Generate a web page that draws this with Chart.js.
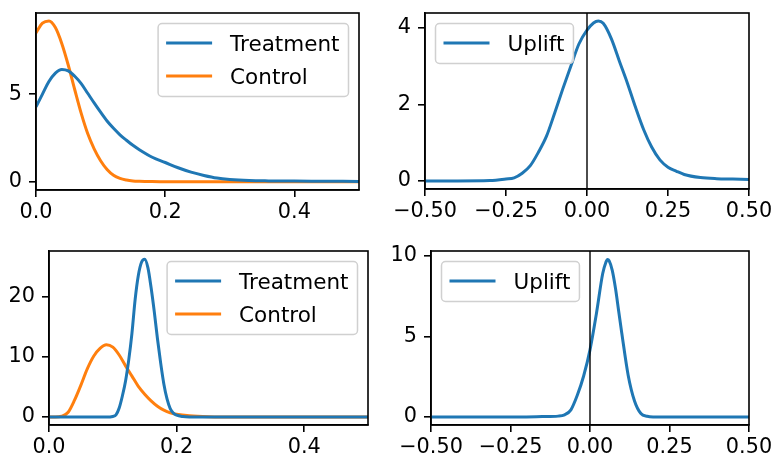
<!DOCTYPE html>
<html>
<head>
<meta charset="utf-8">
<script src="https://cdn.jsdelivr.net/npm/chart.js@4"></script>
<style>
  html, body { margin: 0; padding: 0; background: #fff; }
  .panel { position: absolute; width: 387px; height: 227px; }
  canvas { display: block; }
</style>
</head>
<body>
<div class="panel" style="left:0;top:0"><canvas id="chart-1" width="387" height="227"></canvas></div>
<div class="panel" style="left:387px;top:0"><canvas id="chart-2" width="387" height="227"></canvas></div>
<div class="panel" style="left:0;top:227px"><canvas id="chart-3" width="387" height="227"></canvas></div>
<div class="panel" style="left:387px;top:227px"><canvas id="chart-4" width="387" height="227"></canvas></div>
<script>
// Top left - Treatment vs Control
const xs1 = [0, 0.01, 0.02, 0.03, 0.04, 0.05, 0.06, 0.07, 0.08, 0.09, 0.10, 0.11, 0.12, 0.13, 0.14, 0.15, 0.16, 0.18, 0.20, 0.22, 0.24, 0.26, 0.28, 0.30, 0.33, 0.36, 0.40, 0.45, 0.50]
const treatment1 = [4.27, 5.0, 5.72, 6.2, 6.41, 6.33, 6.02, 5.6, 5.05, 4.5, 3.97, 3.47, 3.05, 2.68, 2.37, 2.08, 1.83, 1.4, 1.1, 0.8, 0.55, 0.36, 0.21, 0.13, 0.07, 0.05, 0.04, 0.03, 0.02]
const control1 = [8.5, 9.05, 9.18, 8.8, 7.88, 6.65, 5.25, 3.9, 2.75, 1.88, 1.2, 0.7, 0.37, 0.19, 0.1, 0.05, 0.03, 0.01, 0, 0, 0, 0, 0, 0, 0, 0, 0, 0, 0]

// Top right - Uplift
const xs2 = [-0.5, -0.4, -0.3, -0.25, -0.225, -0.2, -0.175, -0.15, -0.125, -0.1, -0.075, -0.05, -0.025, 0, 0.02, 0.035, 0.05, 0.075, 0.1, 0.125, 0.15, 0.175, 0.2, 0.225, 0.25, 0.275, 0.3, 0.35, 0.4, 0.45, 0.5]
const uplift1 = [0, 0, 0.01, 0.05, 0.08, 0.2, 0.4, 0.75, 1.17, 1.77, 2.4, 3.0, 3.58, 3.94, 4.13, 4.18, 4.12, 3.72, 3.13, 2.55, 1.92, 1.34, 0.88, 0.55, 0.36, 0.26, 0.17, 0.09, 0.06, 0.05, 0.04]

// Bottom left - Treatment vs Control
const xsTreatment3 = [0, 0.05, 0.09, 0.1, 0.105, 0.11, 0.115, 0.12, 0.125, 0.13, 0.135, 0.14, 0.145, 0.15, 0.155, 0.16, 0.165, 0.17, 0.175, 0.18, 0.185, 0.19, 0.195, 0.2, 0.21, 0.22, 0.25, 0.3, 0.4, 0.5]
const treatment3 = [0, 0, 0, 0.1, 0.35, 1.5, 3.5, 6.0, 9.5, 13.9, 19.5, 23.5, 25.7, 26.2, 24.8, 21.5, 17.5, 13.0, 9.0, 5.5, 3.0, 1.4, 0.65, 0.3, 0.08, 0.02, 0, 0, 0, 0]
const xsControl3 = [0, 0.01, 0.02, 0.03, 0.04, 0.05, 0.06, 0.07, 0.08, 0.09, 0.1, 0.11, 0.12, 0.13, 0.14, 0.15, 0.16, 0.17, 0.18, 0.19, 0.2, 0.22, 0.25, 0.3, 0.4, 0.5]
const control3 = [0, 0, 0.15, 0.8, 2.8, 5.3, 8.0, 10.1, 11.4, 12.0, 11.6, 10.3, 8.5, 6.8, 5.1, 3.8, 2.7, 1.8, 1.15, 0.7, 0.45, 0.2, 0.05, 0, 0, 0]

// Bottom right - Uplift
const xs4 = [-0.5, -0.3, -0.2, -0.15, -0.1, -0.08, -0.06, -0.04, -0.02, 0, 0.02, 0.04, 0.05, 0.055, 0.06, 0.07, 0.08, 0.09, 0.1, 0.12, 0.14, 0.16, 0.18, 0.2, 0.25, 0.3, 0.5]
const uplift2 = [0, 0, 0.01, 0.03, 0.06, 0.14, 0.45, 1.35, 2.55, 4.17, 6.4, 8.9, 9.6, 9.78, 9.7, 9.1, 8.0, 6.6, 5.2, 2.6, 1.0, 0.22, 0.05, 0.01, 0, 0, 0]

// Tick values and labels
const xTicksRate = [0, 0.2, 0.4]
const xLabelsRate = ['0.0', '0.2', '0.4']
const xTicksUplift = [-0.5, -0.25, 0, 0.25, 0.5]
const xLabelsUplift = ['\u22120.50', '\u22120.25', '0.00', '0.25', '0.50']
const yTicks1 = [0, 5]
const yTicks2 = [0, 2, 4]
const yTicks3 = [0, 10, 20]
const yTicks4 = [0, 5, 10]
const zeroLine = 0

const BLUE = '#1f77b4'
const ORANGE = '#ff7f0e'
const LEGEND_FONT = '21.5px "DejaVu Sans"'

Chart.defaults.font.family = '"DejaVu Sans"'
Chart.defaults.font.size = 20.8
Chart.defaults.color = '#000'

const toPoints = (xs, ys) => xs.map((x, i) => ({ x: x, y: ys[i] }))

const line = (label, xs, ys, color) => ({
  label: label,
  data: toPoints(xs, ys),
  borderColor: color,
  borderWidth: 3,
  pointRadius: 0,
  fill: false,
  cubicInterpolationMode: 'monotone'
})

// Box round the plot area, like matplotlib spines, plus the x = 0 line
const framePlugin = {
  id: 'frame',
  afterDatasetsDraw(chart, args, opts) {
    const { ctx, chartArea } = chart
    ctx.save()
    if (opts.refLine !== undefined) {
      const x = chart.scales.x.getPixelForValue(opts.refLine)
      ctx.beginPath()
      ctx.moveTo(x, chartArea.top)
      ctx.lineTo(x, chartArea.bottom)
      ctx.strokeStyle = '#000'
      ctx.lineWidth = 1.4
      ctx.stroke()
    }
    ctx.strokeStyle = '#000'
    ctx.lineWidth = 1.6
    ctx.strokeRect(chartArea.left, chartArea.top, chartArea.right - chartArea.left, chartArea.bottom - chartArea.top)
    ctx.restore()
  }
}

// Legend drawn inside the axes with a rounded frame
const boxLegendPlugin = {
  id: 'boxLegend',
  afterDraw(chart, args, opts) {
    const { ctx, chartArea } = chart
    const sets = chart.data.datasets
    ctx.save()
    ctx.font = LEGEND_FONT
    const textW = Math.max(...sets.map((d) => ctx.measureText(d.label).width))
    const w = textW + 81
    const h = 40 + (sets.length - 1) * 33
    const x = opts.loc === 'left' ? chartArea.left + 10.5 : chartArea.right - 10.5 - w
    const y = chartArea.top + 10.5
    const r = 4
    ctx.beginPath()
    ctx.moveTo(x + r, y)
    ctx.arcTo(x + w, y, x + w, y + h, r)
    ctx.arcTo(x + w, y + h, x, y + h, r)
    ctx.arcTo(x, y + h, x, y, r)
    ctx.arcTo(x, y, x + w, y, r)
    ctx.closePath()
    ctx.fillStyle = 'rgba(255,255,255,0.8)'
    ctx.fill()
    ctx.strokeStyle = '#d0d0d0'
    ctx.lineWidth = 1.5
    ctx.stroke()
    sets.forEach((d, i) => {
      const cy = y + 19.5 + i * 33
      ctx.beginPath()
      ctx.moveTo(x + 8, cy)
      ctx.lineTo(x + 54, cy)
      ctx.strokeStyle = d.borderColor
      ctx.lineWidth = 3
      ctx.stroke()
      ctx.fillStyle = '#000'
      ctx.textBaseline = 'alphabetic'
      ctx.fillText(d.label, x + 72, cy + 7.8)
    })
    ctx.restore()
  }
}

const axisStyle = {
  grid: { drawOnChartArea: false, drawTicks: true, tickLength: 7, tickWidth: 1.6, tickColor: '#000', color: '#000', lineWidth: 1.6 },
  border: { display: true, color: '#000', width: 1.6 }
}

const makeChart = (id, datasets, cfg) => {
  return new Chart(document.getElementById(id), {
    type: 'line',
    data: { datasets: datasets },
    options: {
      responsive: false,
      animation: false,
      devicePixelRatio: 1,
      layout: { padding: { left: 0, top: cfg.top, right: cfg.right, bottom: 0 } },
      scales: {
        x: {
          type: 'linear',
          min: cfg.xMin,
          max: cfg.xMax,
          afterBuildTicks: (s) => { s.ticks = cfg.xTicks.map((v) => ({ value: v })) },
          afterFit: (s) => { s.height = cfg.xHeight; s.paddingLeft = 0; s.paddingRight = 0 },
          ticks: { autoSkip: false, maxRotation: 0, padding: 3, callback: (v, i) => cfg.xLabels[i] },
          ...axisStyle
        },
        y: {
          type: 'linear',
          min: cfg.yMin,
          max: cfg.yMax,
          afterBuildTicks: (s) => { s.ticks = cfg.yTicks.map((v) => ({ value: v })) },
          afterFit: (s) => { s.width = cfg.yWidth; s.paddingTop = 0; s.paddingBottom = 0 },
          ticks: { autoSkip: false, padding: 7, callback: (v) => String(v) },
          ...axisStyle
        }
      },
      plugins: {
        legend: { display: false },
        tooltip: { enabled: false },
        frame: { refLine: cfg.refLine },
        boxLegend: { loc: cfg.legendLoc }
      }
    },
    plugins: [framePlugin, boxLegendPlugin]
  })
}

makeChart('chart-1', [
  line('Treatment', xs1, treatment1, BLUE),
  line('Control', xs1, control1, ORANGE)
], {
  xMin: 0, xMax: 0.5, yMin: -0.47, yMax: 9.63,
  xTicks: xTicksRate, xLabels: xLabelsRate, yTicks: yTicks1,
  top: 13, right: 28, yWidth: 36, xHeight: 37, legendLoc: 'right'
})

makeChart('chart-2', [
  line('Uplift', xs2, uplift1, BLUE)
], {
  xMin: -0.5, xMax: 0.5, yMin: -0.21, yMax: 4.39,
  xTicks: xTicksUplift, xLabels: xLabelsUplift, yTicks: yTicks2,
  top: 13, right: 25, yWidth: 38, xHeight: 38, legendLoc: 'left', refLine: zeroLine
})

makeChart('chart-3', [
  line('Treatment', xsTreatment3, treatment3, BLUE),
  line('Control', xsControl3, control3, ORANGE)
], {
  xMin: 0, xMax: 0.5, yMin: -1.32, yMax: 27.57,
  xTicks: xTicksRate, xLabels: xLabelsRate, yTicks: yTicks3,
  top: 24, right: 19, yWidth: 49, xHeight: 29, legendLoc: 'right'
})

makeChart('chart-4', [
  line('Uplift', xs4, uplift2, BLUE)
], {
  xMin: -0.5, xMax: 0.5, yMin: -0.49, yMax: 10.3,
  xTicks: xTicksUplift, xLabels: xLabelsUplift, yTicks: yTicks4,
  top: 24, right: 25, yWidth: 44, xHeight: 29, legendLoc: 'left', refLine: zeroLine
})
</script>
</body>
</html>
